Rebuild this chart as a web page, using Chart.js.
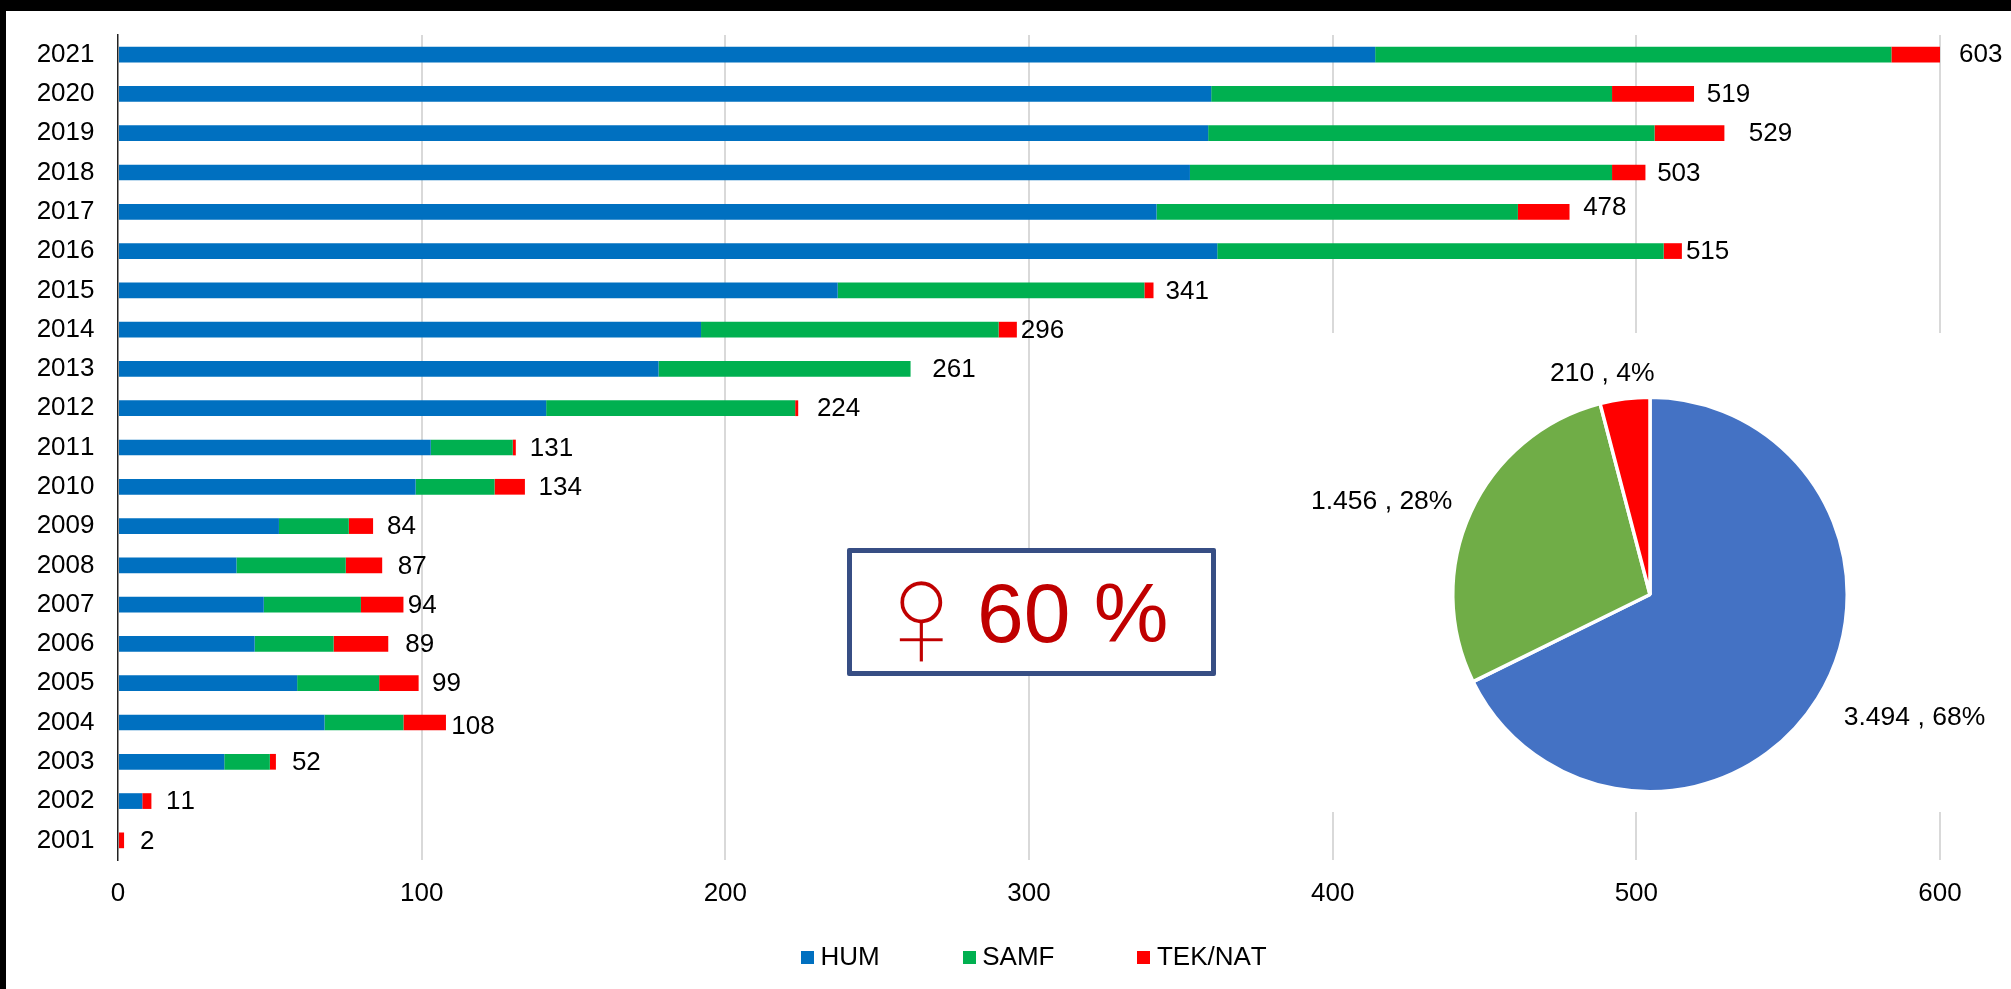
<!DOCTYPE html>
<html lang="da">
<head>
<meta charset="utf-8">
<title>Chart</title>
<script src="https://cdn.jsdelivr.net/npm/chart.js@4"></script>
<style>
html,body{margin:0;padding:0;background:#fff;width:2011px;height:989px;overflow:hidden;font-family:"Liberation Sans",Arial,sans-serif}
canvas{position:absolute;display:block}
#barChart{left:0;top:0}
#pieChart{left:1300px;top:333px;background:#fff}
.edgeTop{position:absolute;left:0;top:0;width:2011px;height:11px;background:#000}
.edgeLeft{position:absolute;left:0;top:0;width:6px;height:989px;background:#000}
#box{position:absolute;left:847px;top:548px;width:358.5px;height:117.5px;border:5px solid #374E84;border-radius:2px;background:#fff;color:#C00000}
#sym{position:absolute;left:10px;top:10.5px;width:100px;text-align:center;font:158px/100px "Liberation Sans";-webkit-text-stroke:2.5px #fff}
#pct{position:absolute;left:125px;top:9.5px;font:84px/100px "Liberation Sans";white-space:pre}
</style>
</head>
<body>
<canvas id="barChart" width="2011" height="989"></canvas>
<canvas id="pieChart" width="711" height="479"></canvas>
<div class="edgeTop"></div><div class="edgeLeft"></div>
<div id="box"><span id="sym">♀</span><span id="pct">60 %</span></div>
<script>
const years = ['2021','2020','2019','2018','2017','2016','2015','2014','2013','2012','2011','2010','2009','2008','2007','2006','2005','2004','2003','2002','2001'];
const hum   = [414,360,359,353,342,362,237,192,178,141,103,98,53,39,48,45,59,68,35,8,0];
const samf  = [170,132,147,139,119,147,101,98,83,82,27,26,23,36,32,26,27,26,15,0,0];
const tek   = [19,27,23,11,17,6,3,6,0,1,1,10,8,12,14,18,13,14,2,3,2];
const totals = [603,519,529,503,478,515,341,296,261,224,131,134,84,87,94,89,99,108,52,11,2];
const seriesNames = ['HUM','SAMF','TEK/NAT'];
const pieLabels = ['3.494 , 68%','1.456 , 28%','210 , 4%'];
const pieValues = [3494,1456,210];
const xTicks = [0,100,200,300,400,500,600];

const barColors = ['#0070C0','#00B050','#FF0000'];
const pieColors = ['#4472C4','#70AD47','#FF0000'];
const FONT = '"Liberation Sans", Arial, sans-serif';
const totalNudgeX = [10,12.7,24.4,11.7,13.6,4,12,4,21.7,18.7,14,13.7,14,15.6,4.3,17,13.3,5.4,16,14.6,16];
const totalNudgeY = [-0.5,-0.5,-0.5,0,-4.7,-0.5,0,0,0,0,0,0,0,0,0,0,0,3,0,0,0];
const pieLabelNudge = [[97,19],[-88.9,-10.9],[-22.6,-25]];

function swatch(color){
  const c = document.createElement('canvas');
  c.width = 13; c.height = 13;
  const g = c.getContext('2d');
  g.fillStyle = color; g.fillRect(0,0,13,13);
  return c;
}

const noKerning = {
  id:'noKerning',
  beforeLayout(chart){ chart.ctx.fontKerning = 'none'; },
  beforeDraw(chart){ chart.ctx.fontKerning = 'none'; }
};
const totalLabels = {
  id:'totalLabels',
  afterDatasetsDraw(chart){
    const {ctx, scales:{x,y}} = chart;
    ctx.save();
    ctx.font = '26px ' + FONT;
    ctx.fillStyle = '#000';
    ctx.textAlign = 'left';
    ctx.textBaseline = 'middle';
    totals.forEach((t,i)=>{
      ctx.fillText(String(t), x.getPixelForValue(t) + totalNudgeX[i], y.getPixelForValue(years[i]) + 1 + totalNudgeY[i]);
    });
    ctx.restore();
  }
};
const placeLegend = {
  id:'placeLegend',
  afterLayout(chart){
    const l = chart.legend;
    l.left = 718; l.right = 2011; l.top = 855; l.bottom = 989;
  }
};

new Chart(document.getElementById('barChart'),{
  type:'bar',
  plugins:[noKerning,totalLabels,placeLegend],
  data:{
    labels:years,
    datasets:[hum,samf,tek].map((d,i)=>({
      label:seriesNames[i], data:d, backgroundColor:barColors[i], borderWidth:0,
      barPercentage:0.4, categoryPercentage:1
    }))
  },
  options:{
    indexAxis:'y', responsive:false, animation:false, devicePixelRatio:1,
    layout:{padding:{left:0,right:71,top:35,bottom:0}},
    plugins:{
      tooltip:{enabled:false},
      title:{display:false},
      legend:{
        position:'bottom', align:'start', maxHeight:1,
        labels:{
          usePointStyle:true, boxWidth:0.01, boxHeight:13, padding:89.5,
          color:'#000', font:{family:FONT,size:26},
          generateLabels:()=>seriesNames.map((n,i)=>({text:n,fillStyle:barColors[i],pointStyle:swatch(barColors[i]),lineWidth:0,datasetIndex:i,hidden:false}))
        }
      }
    },
    scales:{
      x:{
        type:'linear', stacked:true, min:0, max:600,
        afterBuildTicks:s=>{s.ticks = xTicks.map(v=>({value:v}));},
        afterFit:s=>{s.height = 128;},
        grid:{color:c=>c.tick.value===0?'rgba(0,0,0,0)':'#D9D9D9',lineWidth:2,drawTicks:false},
        border:{display:false},
        ticks:{color:'#000',font:{family:FONT,size:26},padding:18,maxRotation:0}
      },
      y:{
        type:'category', stacked:true,
        afterFit:s=>{s.width = 118; s.paddingTop = 0; s.paddingBottom = 0;},
        grid:{display:false,drawTicks:false},
        border:{display:true,color:'#222',width:1.5},
        ticks:{color:'#000',font:{family:FONT,size:26},padding:23.5,autoSkip:false}
      }
    }
  }
});

const pieText = {
  id:'pieText',
  afterDatasetsDraw(chart){
    const {ctx} = chart;
    const arcs = chart.getDatasetMeta(0).data;
    ctx.save();
    ctx.font = '26.5px ' + FONT;
    ctx.fillStyle = '#000';
    ctx.textAlign = 'center';
    ctx.textBaseline = 'middle';
    arcs.forEach((a,i)=>{
      const p = a.getProps(['x','y','startAngle','endAngle','outerRadius']);
      const m = (p.startAngle+p.endAngle)/2;
      ctx.fillText(pieLabels[i], p.x+Math.cos(m)*p.outerRadius+pieLabelNudge[i][0], p.y+Math.sin(m)*p.outerRadius+pieLabelNudge[i][1]);
    });
    ctx.restore();
  }
};
new Chart(document.getElementById('pieChart'),{
  type:'pie',
  plugins:[noKerning,pieText],
  data:{
    labels:seriesNames,
    datasets:[{data:pieValues,backgroundColor:pieColors,borderColor:'#fff',borderWidth:3.5}]
  },
  options:{
    responsive:false, animation:false, devicePixelRatio:1,
    layout:{padding:{left:151,right:162,top:62.5,bottom:18.5}},
    plugins:{legend:{display:false},tooltip:{enabled:false},title:{display:false}}
  }
});
</script>
</body>
</html>
